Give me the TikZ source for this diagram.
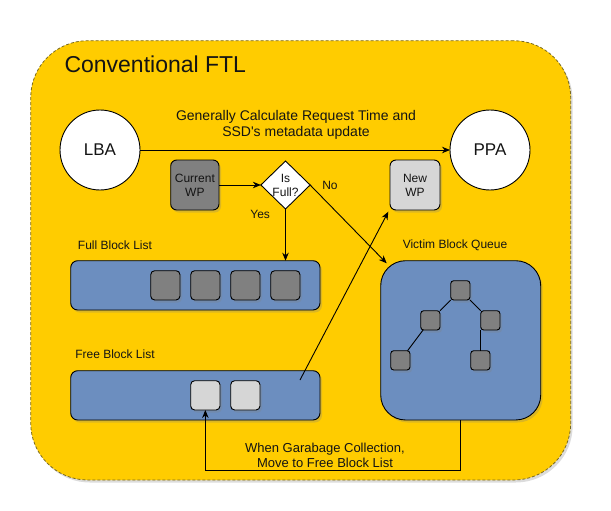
\documentclass[tikz,border=0pt]{standalone}
\usepackage{fontspec}
\setmainfont{Liberation Sans}[Ligatures=TeXOff]
\usetikzlibrary{shapes.geometric,shadows,arrows.meta,calc}
\definecolor{ftlyellow}{HTML}{FFCC00}
\definecolor{listblue}{HTML}{6C8EBF}
\definecolor{blkgray}{HTML}{808080}
\definecolor{blklight}{HTML}{D6D6D6}
\definecolor{borderdark}{HTML}{7A6A20}
\definecolor{txt}{HTML}{141414}
\begin{document}
\begin{tikzpicture}[x=1pt,y=-1pt,
  every node/.style={inner sep=0pt, outer sep=0pt, text=txt},
  shd/.style={drop shadow={opacity=0.28, shadow xshift=2pt, shadow yshift=-2.5pt}},
  lbl/.style={font=\fontsize{12}{14}\selectfont, align=center},
  circ/.style={circle, draw, fill=white, minimum size=80pt, line width=0.9pt, font=\fontsize{17}{20}\selectfont},
  wpbox/.style={draw, rounded corners=6pt, minimum width=48.3pt, minimum height=50pt, line width=0.9pt, shd, align=center, font=\fontsize{12}{14}\selectfont},
  listbox/.style={draw, fill=listblue, rounded corners=7pt, minimum width=249.3pt, minimum height=49.3pt, line width=0.9pt, shd},
  blk/.style={draw, rounded corners=4pt, minimum size=29.3pt, line width=0.9pt, shd},
  tnode/.style={draw, fill=blkgray, rounded corners=3pt, minimum size=19.3pt, line width=0.9pt, shd},
  arr/.style={-{Stealth[length=8pt,width=6.5pt]}, line width=0.9pt},
  conn/.style={line width=0.9pt},
]
\useasboundingbox (0,0) rectangle (611,511);
% outer container
\node[draw=borderdark, dash pattern=on 3pt off 2pt, line width=0.8pt, fill=ftlyellow,
      rounded corners=57pt, minimum width=540pt, minimum height=439.3pt, shd] (ftl) at (300.7,260.35) {};
\node[anchor=base west, font=\fontsize{23}{27}\selectfont] (title) at (64.5,72.7) {Conventional FTL};

% LBA / PPA
\node[circ] (lba) at (100,150) {LBA};
\node[circ] (ppa) at (490,150) {PPA};
\node[font=\fontsize{14}{16.5}\selectfont, align=center] (gen) at (296,125)
  {Generally Calculate Request Time and\\SSD's metadata update};

% write pointers and decision
\node[wpbox, fill=blkgray] (cwp) at (194.85,185) {Current\\WP};
\node[diamond, draw, fill=white, minimum width=49.3pt, minimum height=48pt, line width=0.9pt] (dia) at (285.5,185) {};
\node[lbl] (diat) at (dia.center) {Is\\Full?};
\node[wpbox, fill=blklight, minimum width=50pt] (nwp) at (415,185) {New\\WP};
\node[lbl] (yes) at (260.2,214.3) {Yes};
\node[lbl] (no) at (330,185) {No};

% lists
\node[lbl] (fulll) at (115,245) {Full Block List};
\node[listbox] (full) at (195.35,285.35) {};
\node[blk, fill=blkgray] (b1) at (165.35,285.35) {};
\node[blk, fill=blkgray] (b2) at (205.35,285.35) {};
\node[blk, fill=blkgray] (b3) at (245.35,285.35) {};
\node[blk, fill=blkgray] (b4) at (285.35,285.35) {};

\node[lbl] (freel) at (115,354.5) {Free Block List};
\node[listbox] (free) at (195.35,395.35) {};
\node[blk, fill=blklight] (f1) at (205.35,395.35) {};
\node[blk, fill=blklight] (f2) at (245.35,395.35) {};

% victim block queue
\node[lbl] (victiml) at (455,245) {Victim Block Queue};
\node[listbox, minimum width=160pt, minimum height=159.3pt, rounded corners=25pt] (victim) at (460.7,340.35) {};
\node[tnode] (n1) at (460.35,290.35) {};
\node[tnode] (n2) at (430.35,320.35) {};
\node[tnode] (n3) at (490.35,320.35) {};
\node[tnode] (n4) at (400.35,360.35) {};
\node[tnode] (n5) at (480.35,360.35) {};
\draw[conn] (n1) -- (n2);
\draw[conn] (n1) -- (n3);
\draw[conn] (n2) -- (n4);
\draw[conn] (n5.north) -- (n5.north |- n3.south);

% connectors
\draw[arr] (lba) -- (ppa);
\draw[arr] (cwp) -- (dia.west);
\draw[arr] (dia.south) -- (dia.south |- full.north);
\coordinate (vend) at (386.7,263.3);
\draw[arr] (dia.east) -- (vend);
\coordinate (fstart) at (300,380);
\coordinate (nwpend) at (388.3,211.7);
\draw[arr] (fstart) -- (nwpend);
\coordinate (gcy) at (0,470);
\draw[arr] (victim.south) -- (victim.south |- gcy) -| (f1.south);
\node[font=\fontsize{13}{15.5}\selectfont, align=center] (gclbl) at (325,455.5)
  {When Garabage Collection,\\Move to Free Block List};
\end{tikzpicture}
\end{document}
